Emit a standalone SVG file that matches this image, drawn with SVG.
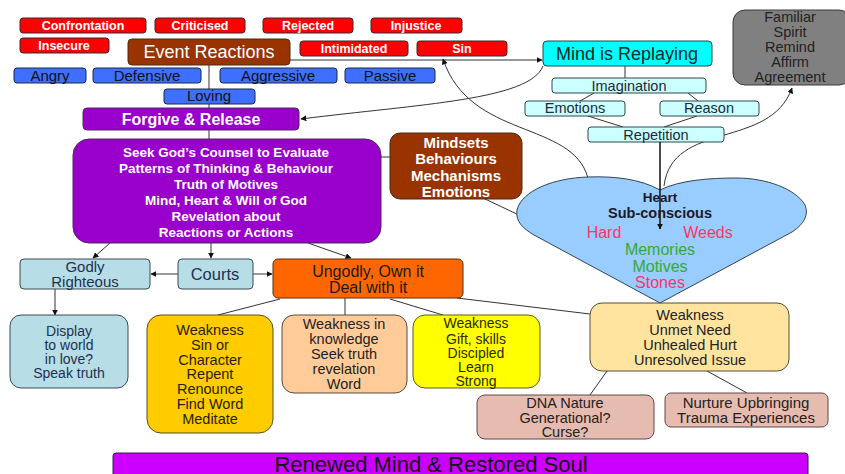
<svg xmlns="http://www.w3.org/2000/svg" width="845" height="474" viewBox="0 0 845 474">
<defs>
<marker id="ah" viewBox="0 0 10 10" refX="9" refY="5" markerWidth="6" markerHeight="6" orient="auto" markerUnits="userSpaceOnUse">
<path d="M0,0 L10,5 L0,10 z" fill="#111"/>
</marker>
<style>
text{font-family:"Liberation Sans",Arial,sans-serif;text-anchor:middle}
.red rect{fill:#FF0000;stroke:#3a2a2a;stroke-width:1}
.red text{fill:#fff;font-size:12.5px;font-weight:bold}
.blue rect{fill:#3F6FFF;stroke:#1a2a4a;stroke-width:1}
.blue text{fill:#111;font-size:15px}
.brown rect{fill:#993300;stroke:#4a2a1a;stroke-width:1}
.purple rect{fill:#9900CC;stroke:#4a2a5a;stroke-width:1}
.wt{fill:#fff;font-weight:bold}
.lb rect{fill:#B7DDE6;stroke:#3a4a55;stroke-width:1}
.lb text{fill:#1F3050;font-size:14px}
.cy rect{fill:#CCFFFF;stroke:#2a4a4a;stroke-width:1}
.cy text{fill:#1a2a3a;font-size:14.5px}
.dk{fill:#1a1a1a}
.conn line,.conn path{stroke:#333;stroke-width:1;fill:none}
</style>
</defs>

<g class="conn">
<line x1="209" y1="65" x2="209" y2="139"/>
<line x1="290" y1="60" x2="542" y2="60" marker-end="url(#ah)"/>
<path d="M543,66 C530,100 420,104 301,119" marker-end="url(#ah)"/>
<path d="M588,178 C572,120 470,140 443,59" marker-end="url(#ah)"/>
<path d="M664,186 C672,120 770,150 792,88" marker-end="url(#ah)"/>
<line x1="625" y1="66" x2="625" y2="78"/>
<line x1="594" y1="93" x2="580" y2="101"/>
<line x1="688" y1="93" x2="698" y2="101"/>
<line x1="588" y1="116" x2="623" y2="127"/>
<line x1="697" y1="116" x2="664" y2="127"/>
<line x1="381" y1="157" x2="390" y2="157"/>
<line x1="483" y1="198" x2="521" y2="216"/>
<line x1="110" y1="243" x2="93" y2="258" marker-end="url(#ah)"/>
<line x1="211" y1="243" x2="211" y2="258" marker-end="url(#ah)"/>
<line x1="308" y1="243" x2="351" y2="258" marker-end="url(#ah)"/>
<line x1="178" y1="274" x2="151" y2="274" marker-end="url(#ah)"/>
<line x1="253" y1="274" x2="272" y2="274" marker-end="url(#ah)"/>
<line x1="55" y1="289" x2="55" y2="315" marker-end="url(#ah)"/>
<line x1="280" y1="299" x2="218" y2="315"/>
<line x1="345" y1="298" x2="345" y2="315"/>
<line x1="390" y1="299" x2="443" y2="315"/>
<line x1="457" y1="298" x2="590" y2="314"/>
<line x1="607" y1="371" x2="590" y2="395"/>
<line x1="707" y1="371" x2="747" y2="393"/>
</g>

<g id="confrontation" class="red"><rect x="20" y="18" width="126" height="15" rx="3"/><text x="83" y="30">Confrontation</text></g>
<g id="criticised" class="red"><rect x="155" y="18" width="90" height="15" rx="3"/><text x="200" y="30">Criticised</text></g>
<g id="rejected" class="red"><rect x="263" y="18" width="90" height="15" rx="3"/><text x="308" y="30">Rejected</text></g>
<g id="injustice" class="red"><rect x="371" y="18" width="91" height="15" rx="3"/><text x="416" y="30">Injustice</text></g>
<g id="insecure" class="red"><rect x="20" y="38" width="89" height="15" rx="3"/><text x="64" y="50">Insecure</text></g>
<g id="intimidated" class="red"><rect x="300" y="41" width="108" height="15" rx="3"/><text x="354" y="53">Intimidated</text></g>
<g id="sin" class="red"><rect x="417" y="41" width="90" height="15" rx="3"/><text x="462" y="53">Sin</text></g>

<g id="event-reactions" class="brown"><rect x="128" y="39" width="162" height="26" rx="4"/><text x="209" y="58" style="fill:#fff;font-size:18px">Event Reactions</text></g>

<g id="angry" class="blue"><rect x="14" y="68" width="72" height="15" rx="3"/><text x="50" y="81">Angry</text></g>
<g id="defensive" class="blue"><rect x="93" y="68" width="108" height="15" rx="3"/><text x="147" y="81">Defensive</text></g>
<g id="aggressive" class="blue"><rect x="220" y="68" width="117" height="15" rx="3"/><text x="278" y="81">Aggressive</text></g>
<g id="passive" class="blue"><rect x="345" y="68" width="90" height="15" rx="3"/><text x="390" y="81">Passive</text></g>
<g id="loving" class="blue"><rect x="164" y="89" width="91" height="15" rx="3"/><text x="209" y="101">Loving</text></g>

<g id="forgive" class="purple"><rect x="83" y="108" width="216" height="22" rx="4"/><text x="191" y="125" class="wt" style="font-size:16px">Forgive &amp; Release</text></g>

<g id="seek" class="purple"><rect x="73" y="139" width="308" height="104" rx="16"/>
<g class="wt" style="font-size:13.5px">
<text x="226" y="157">Seek God’s Counsel to Evaluate</text>
<text x="226" y="173">Patterns of Thinking &amp; Behaviour</text>
<text x="226" y="189">Truth of Motives</text>
<text x="226" y="205">Mind, Heart &amp; Will of God</text>
<text x="226" y="221">Revelation about</text>
<text x="226" y="237">Reactions or Actions</text>
</g></g>

<g id="mindsets" class="brown"><rect x="390" y="133" width="132" height="66" rx="10"/>
<g class="wt" style="font-size:15px">
<text x="456" y="148">Mindsets</text>
<text x="456" y="164">Behaviours</text>
<text x="456" y="181">Mechanisms</text>
<text x="456" y="197">Emotions</text>
</g></g>

<g id="godly" class="lb"><rect x="20" y="259" width="130" height="30" rx="4"/><text x="85" y="272" style="font-size:15px">Godly</text><text x="85" y="287" style="font-size:15px">Righteous</text></g>
<g id="courts" class="lb"><rect x="178" y="259" width="75" height="30" rx="4"/><text x="215" y="280" style="font-size:16.5px">Courts</text></g>
<g id="ungodly"><rect x="273" y="259" width="190" height="39" rx="5" fill="#FF6600" stroke="#5a2a0a"/><text x="368" y="277" class="dk" style="font-size:16px">Ungodly, Own it</text><text x="368" y="293" class="dk" style="font-size:16px">Deal with it</text></g>

<g id="display" class="lb"><rect x="10" y="315" width="118" height="73" rx="11"/>
<text x="69" y="336">Display</text><text x="69" y="350">to world</text><text x="69" y="364">in love?</text><text x="69" y="378">Speak truth</text></g>

<g id="weak-sin"><rect x="147" y="315" width="126" height="118" rx="14" fill="#FFCC00" stroke="#5a4a1a"/>
<g style="font-size:14.5px;fill:#2a2000">
<text x="210" y="335">Weakness</text><text x="210" y="350">Sin or</text><text x="210" y="365">Character</text><text x="210" y="379">Repent</text><text x="210" y="394">Renounce</text><text x="210" y="409">Find Word</text><text x="210" y="424">Meditate</text>
</g></g>

<g id="weak-knowledge"><rect x="282" y="315" width="125" height="78" rx="12" fill="#FFCC99" stroke="#5a4a3a"/>
<g style="font-size:14.5px;fill:#222">
<text x="344" y="329">Weakness in</text><text x="344" y="344">knowledge</text><text x="344" y="359">Seek truth</text><text x="344" y="374">revelation</text><text x="344" y="389">Word</text>
</g></g>

<g id="weak-gift"><rect x="413" y="315" width="127" height="73" rx="12" fill="#FFFF00" stroke="#5a5a1a"/>
<g style="font-size:14px;fill:#2a2a00">
<text x="476" y="328">Weakness</text><text x="476" y="344">Gift, skills</text><text x="476" y="358">Discipled</text><text x="476" y="372">Learn</text><text x="476" y="386">Strong</text>
</g></g>

<g id="weak-unmet"><rect x="590" y="303" width="199" height="68" rx="12" fill="#FFE4A0" stroke="#5a4a3a"/>
<g style="font-size:14.5px;fill:#222">
<text x="690" y="320">Weakness</text><text x="690" y="335">Unmet Need</text><text x="690" y="350">Unhealed Hurt</text><text x="690" y="365">Unresolved Issue</text>
</g></g>

<g id="dna"><rect x="477" y="395" width="177" height="44" rx="8" fill="#E6BBB0" stroke="#5a4a4a"/>
<g style="font-size:14.5px;fill:#222">
<text x="565" y="408">DNA Nature</text><text x="565" y="423">Generational?</text><text x="565" y="437">Curse?</text>
</g></g>

<g id="nurture"><rect x="665" y="393" width="163" height="34" rx="6" fill="#E6BBB0" stroke="#5a4a4a"/>
<g style="font-size:15px;fill:#222">
<text x="746" y="408">Nurture Upbringing</text><text x="746" y="423">Trauma Experiences</text>
</g></g>

<g id="familiar"><rect x="733" y="10" width="118" height="75" rx="12" fill="#808080" stroke="#3a3a3a"/>
<g style="font-size:14.5px;fill:#222">
<text x="790" y="22">Familiar</text><text x="790" y="37">Spirit</text><text x="790" y="52">Remind</text><text x="790" y="67">Affirm</text><text x="790" y="82">Agreement</text>
</g></g>

<g id="mind-replaying"><rect x="543" y="41" width="169" height="25" rx="4" fill="#00FFFF" stroke="#1a4a4a"/><text x="627" y="60" style="font-size:18px;fill:#0a2a2a">Mind is Replaying</text></g>
<g id="imagination" class="cy"><rect x="552" y="78" width="154" height="15" rx="3"/><text x="629" y="91">Imagination</text></g>
<g id="emotions" class="cy"><rect x="525" y="101" width="100" height="15" rx="3"/><text x="575" y="113">Emotions</text></g>
<g id="reason" class="cy"><rect x="660" y="101" width="99" height="15" rx="3"/><text x="709" y="113">Reason</text></g>
<g id="repetition" class="cy"><rect x="588" y="127" width="136" height="15" rx="3"/><text x="656" y="140">Repetition</text></g>

<g id="heart">
<path d="M660,190 C640,179 615,176 588,177 C555,178 522,190 517,210 C515,222 524,229 534,235 L660,303 L792,232 C804,224 809,215 805,205 C796,189 766,178 737,178 C710,178 680,180 660,190 Z" fill="#99CCFF" stroke="#334455" stroke-width="1"/>
<line x1="660" y1="142" x2="660" y2="229" stroke="#111" stroke-width="1.5" marker-end="url(#ah)"/>
<text x="660" y="202" style="font-size:13.5px;font-weight:bold;fill:#1a1a2a">Heart</text>
<text x="660" y="218" style="font-size:14.5px;font-weight:bold;fill:#1a1a2a">Sub-conscious</text>
<text x="604" y="238" style="font-size:16px;fill:#FF3366">Hard</text>
<text x="708" y="238" style="font-size:16px;fill:#FF3366">Weeds</text>
<text x="660" y="255" style="font-size:16px;fill:#33AA33">Memories</text>
<text x="660" y="272" style="font-size:16px;fill:#33AA33">Motives</text>
<text x="660" y="288" style="font-size:16px;fill:#FF3366">Stones</text>
</g>

<g id="renewed"><rect x="113" y="453" width="695" height="30" rx="3" fill="#CC00FF" stroke="#3a1a4a"/><text x="431" y="472" style="font-size:22px;fill:#111">Renewed Mind &amp; Restored Soul</text></g>
</svg>
